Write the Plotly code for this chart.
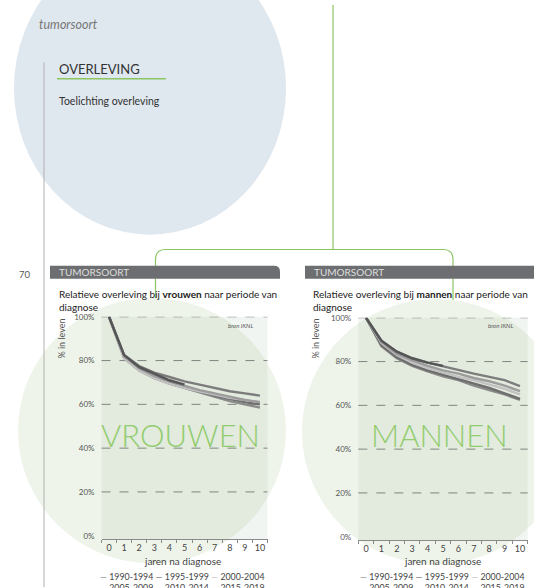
import plotly.graph_objects as go

W, H = 534, 588
FONT = "Lato"

YEARS = list(range(11))
PERIODS = ["1990-1994", "1995-1999", "2000-2004", "2005-2009", "2010-2014", "2015-2019"]
COLORS = ["#8a8a8a", "#6e6e6e", "#c2c2c2", "#9c9c9c", "#7c7c7c", "#555555"]

# relative survival (%) by years since diagnosis
VROUWEN = [
    [100, 81.0, 75.5, 72.0, 69.5, 67.5, 65.5, 63.5, 61.5, 60.0, 58.5],
    [100, 81.5, 76.0, 72.5, 70.0, 68.0, 66.0, 64.0, 62.5, 61.0, 60.0],
    [100, 81.0, 75.5, 72.0, 69.5, 67.5, 66.0, 64.5, 63.0, 62.0, 61.0],
    [100, 82.0, 76.5, 73.0, 70.5, 68.5, 66.5, 65.0, 63.5, 62.0, 61.0],
    [100, 82.5, 77.5, 74.5, 72.5, 70.5, 69.0, 67.5, 66.0, 65.0, 64.0],
    [100, 82.5, 77.0, 74.0, 71.0, 69.0],
]
MANNEN = [
    [100, 87.0, 81.5, 78.0, 75.5, 73.3, 71.5, 69.0, 67.0, 65.0, 62.5],
    [100, 87.5, 82.0, 78.5, 76.0, 74.0, 72.0, 70.0, 68.0, 65.5, 63.0],
    [100, 88.5, 83.0, 79.5, 77.0, 75.0, 73.0, 71.5, 69.5, 67.5, 65.0],
    [100, 89.0, 83.5, 80.5, 78.0, 76.0, 74.5, 72.5, 71.0, 69.0, 66.5],
    [100, 89.5, 84.5, 81.5, 79.5, 77.8, 76.0, 74.5, 73.0, 71.5, 68.8],
    [100, 89.5, 84.5, 81.5, 79.5, 78.0],
]
YTICKS = [0, 20, 40, 60, 80, 100]


def px(x, y):
    return x / W, 1 - y / H


def path(pts):
    # pts: list of (cmd, x, y, ...) in pixels -> paper path string
    out = []
    for p in pts:
        cmd, coords = p[0], p[1:]
        s = cmd
        for i in range(0, len(coords), 2):
            X, Y = px(coords[i], coords[i + 1])
            s += f" {X:.5f},{Y:.5f}"
        out.append(s)
    return " ".join(out)


def label(text, x, y, size, color, xanchor="center", yanchor="middle", **kw):
    X, Y = px(x, y)
    ann.append(dict(text=text, x=X, y=Y, xref="paper", yref="paper", xanchor=xanchor,
                    yanchor=yanchor, showarrow=False, font=dict(family=kw.pop("family", FONT),
                    size=size, color=color), **kw))


fig = go.Figure()
shapes, ann = [], []

# background circles
def ellipse(x0, y0, x1, y1, color):
    X0, Y0 = px(x0, y1)
    X1, Y1 = px(x1, y0)
    shapes.append(dict(type="circle", xref="paper", yref="paper", x0=X0, y0=Y0, x1=X1, y1=Y1,
                       fillcolor=color, line_width=0, layer="below"))

ellipse(14, -64, 286, 232, "#dfe7ef")

# green connector lines
GREEN = "#8cc663"
shapes.append(dict(type="path", xref="paper", yref="paper", layer="below",
                   path=path([("M", 333, 0), ("L", 333, 247)]),
                   line=dict(color=GREEN, width=1.2)))
shapes.append(dict(type="path", xref="paper", yref="paper", layer="below",
                   path=path([("M", 155.5, 298), ("L", 155.5, 257), ("Q", 155.5, 247, 165.5, 247),
                              ("L", 443, 247), ("Q", 453, 247, 453, 257), ("L", 453, 298)]),
                   line=dict(color=GREEN, width=1.2)))

ellipse(18, 296, 286, 564, "#eef4ea")
ellipse(302, 297, 570, 565, "#eef4ea")

# left gray rule
X0, Y0 = px(44, 58)
X1, Y1 = px(44, 588)
shapes.append(dict(type="line", xref="paper", yref="paper", x0=X0, y0=Y0, x1=X1, y1=Y1,
                   line=dict(color="#b0b0b0", width=1), layer="below"))
# OVERLEVING underline
X0, Y0 = px(57, 74.5)
X1, Y1 = px(166, 74.5)
shapes.append(dict(type="line", xref="paper", yref="paper", x0=X0, y0=Y0, x1=X1, y1=Y1,
                   line=dict(color=GREEN, width=1.5)))

# header bars
for bx0, bx1 in [(50, 280), (305, 545)]:
    shapes.append(dict(type="path", xref="paper", yref="paper", fillcolor="#6d6e71", line_width=0,
                       path=path([("M", bx0, 276.5), ("L", bx0, 263.5), ("L", bx1 - 6, 263.5),
                                  ("Q", bx1, 263.5, bx1, 269.5), ("L", bx1, 276.5), ("Z",)])))
    label("TUMORSOORT", bx0 + 7, 270, 10, "#dedede", xanchor="left")

# plot areas: x domain px, y domain px (top, bottom)
PANELS = [
    dict(data=VROUWEN, xd=(101.5, 267.5), yd=(315, 539.5), word="vrouwen", big="VROUWEN",
         tx=57, ytitle_x=62, leg_x=182),
    dict(data=MANNEN, xd=(358.3, 527.7), yd=(316, 540.5), word="mannen", big="MANNEN",
         tx=311, ytitle_x=316, leg_x=442),
]

layout_axes = {}
for i, p in enumerate(PANELS, start=1):
    xa, ya = ("x" if i == 1 else f"x{i}"), ("y" if i == 1 else f"y{i}")
    xd = [p["xd"][0] / W, p["xd"][1] / W]
    yd = [1 - p["yd"][1] / H, 1 - p["yd"][0] / H]
    # plot background
    shapes.append(dict(type="rect", xref="paper", yref="paper", x0=xd[0], x1=xd[1], y0=yd[0], y1=yd[1],
                       fillcolor="rgba(150,175,150,0.13)", line_width=0, layer="below"))
    for v in YTICKS[1:]:
        shapes.append(dict(type="line", xref=f"{xa} domain", yref=ya, x0=0, x1=1, y0=v, y1=v,
                           line=dict(color="#6a6a6a", width=0.8, dash="dash"), layer="below"))
    for period, color, vals in zip(PERIODS, COLORS, p["data"]):
        fig.add_trace(go.Scatter(x=YEARS[:len(vals)], y=vals, mode="lines", name=period,
                                 line=dict(color=color, width=2.4), xaxis=xa, yaxis=ya,
                                 showlegend=False))
    layout_axes["xaxis" if i == 1 else f"xaxis{i}"] = dict(
        domain=xd, range=[-0.5, 10.5], tickvals=YEARS, showgrid=False, zeroline=False,
        showline=True, linecolor="#8a8a8a", linewidth=1, ticks="",
        minor=dict(tick0=-0.5, dtick=1, ticks="outside", ticklen=3, tickcolor="#8a8a8a"),
        tickfont=dict(family=FONT, size=9, color="#444"), anchor=ya, fixedrange=True)
    layout_axes["yaxis" if i == 1 else f"yaxis{i}"] = dict(
        domain=yd, range=[-1.5, 100], tickvals=YTICKS, ticktext=[f"{v}%" for v in YTICKS],
        showgrid=False, zeroline=False, showline=False, ticks="", ticklabelstandoff=6,
        tickfont=dict(family=FONT, size=8, color="#555"), anchor=xa, fixedrange=True)

    cx = (p["xd"][0] + p["xd"][1]) / 2
    label(f"Relatieve overleving bij <b>{p['word']}</b> naar periode van<br>diagnose",
          p["tx"], 284, 10, "#222", xanchor="left", yanchor="top", align="left")
    label("% in leven", p["ytitle_x"], 337, 9, "#555", textangle=-90)
    label("<i>bron IKNL</i>", p["xd"][1] - 27, 324, 6, "#555")
    label(p["big"], cx - 4, 434, 31, "#92cc6e", family="Lato Light, Lato")
    label("jaren na diagnose", p["leg_x"], 562, 10, "#444")
    for row, yy in [(0, 577), (1, 588)]:
        items = [f"<span style='color:{COLORS[k]}'>—</span> {PERIODS[k]}" for k in range(row * 3, row * 3 + 3)]
        label(" ".join(items), p["leg_x"], yy, 8.8, "#444")

# page texts
label("<i>tumorsoort</i>", 37, 20, 12.5, "#777", xanchor="left")
label("OVERLEVING", 57, 65, 13, "#333", xanchor="left")
label("Toelichting overleving", 57, 97, 10.5, "#333", xanchor="left")
label("70", 17, 272, 9.5, "#555", xanchor="left")

fig.update_layout(width=W, height=H, margin=dict(l=0, r=0, t=0, b=0),
                  paper_bgcolor="white", plot_bgcolor="rgba(0,0,0,0)",
                  shapes=shapes, annotations=ann, showlegend=False, **layout_axes)
fig.write_html("out.html", config={"displayModeBar": False},
               post_script="document.body.style.margin='0';")
